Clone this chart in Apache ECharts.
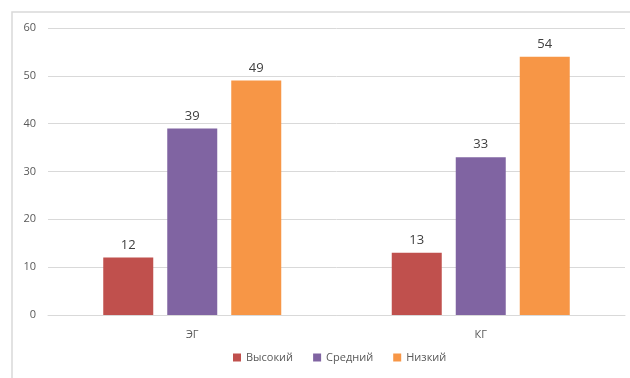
<!DOCTYPE html>
<html>
<head>
<meta charset="utf-8">
<script src="https://cdn.jsdelivr.net/npm/echarts@6/dist/echarts.min.js"></script>
<style>
  html, body { margin: 0; padding: 0; background: #fff; }
  #chart { width: 630px; height: 378px; }
</style>
</head>
<body>
<div id="chart"></div>
<script>
    var categories = ['ЭГ', 'КГ'];
    var seriesNames = ['Высокий', 'Средний', 'Низкий'];
    var highValues = [12, 13];
    var midValues = [39, 33];
    var lowValues = [49, 54];
    var colors = ['#C0504D', '#8064A2', '#F79646'];

    var chart = echarts.init(document.getElementById('chart'));

    function makeSeries(name, data, color) {
        return {
            name: name,
            type: 'bar',
            data: data,
            barWidth: 50,
            barGap: '28%',
            itemStyle: {color: color},
            label: {
                show: true,
                position: 'top',
                distance: 6,
                color: '#404040',
                fontSize: 13,
                fontWeight: 500,
                fontFamily: 'Open Sans'
            }
        };
    }

    var option = {
        animation: false,
        textStyle: {fontFamily: 'Open Sans'},
        graphic: [{
            type: 'rect',
            shape: {x: 12, y: 12, width: 640, height: 400},
            style: {fill: 'none', stroke: '#d9d9d9', lineWidth: 1.5},
            silent: true
        }],
        grid: {
            left: 48,
            right: 5,
            top: 28,
            bottom: 63
        },
        legend: {
            data: seriesNames,
            bottom: 10,
            left: 228,
            icon: 'rect',
            itemWidth: 8,
            itemHeight: 8,
            itemGap: 20,
            textStyle: {color: '#595959', fontSize: 11}
        },
        xAxis: {
            type: 'category',
            data: categories,
            axisLine: {lineStyle: {color: '#d9d9d9'}},
            axisTick: {show: false},
            axisLabel: {color: '#595959', fontSize: 11, margin: 14}
        },
        yAxis: {
            type: 'value',
            min: 0,
            max: 60,
            interval: 10,
            axisLine: {show: false},
            axisTick: {show: false},
            axisLabel: {color: '#595959', fontSize: 11, margin: 12},
            splitLine: {lineStyle: {color: '#d9d9d9'}}
        },
        series: [
            makeSeries(seriesNames[0], highValues, colors[0]),
            makeSeries(seriesNames[1], midValues, colors[1]),
            makeSeries(seriesNames[2], lowValues, colors[2])
        ]
    };

    chart.setOption(option);
</script>
</body>
</html>
